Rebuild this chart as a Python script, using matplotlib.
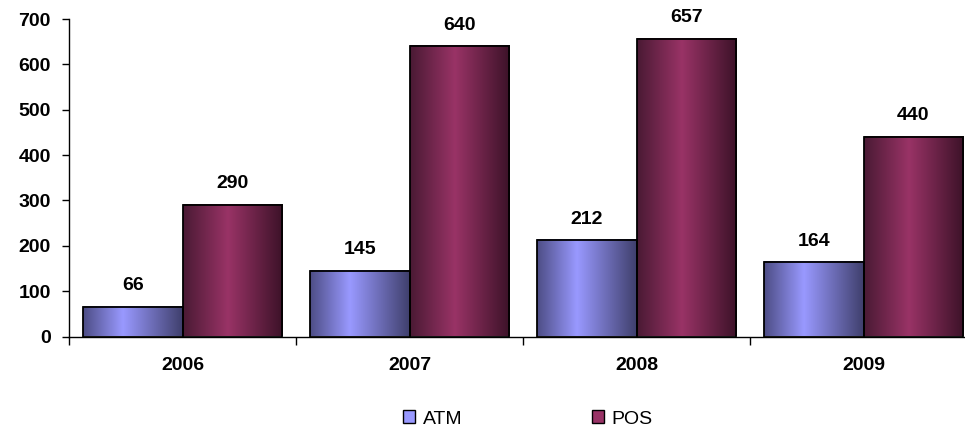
import matplotlib.pyplot as plt
import numpy as np
from matplotlib.colors import LinearSegmentedColormap
from matplotlib.patches import Rectangle, Patch

plt.rcParams['font.family'] = ['Liberation Sans', 'DejaVu Sans']

# data
years = ['2006', '2007', '2008', '2009']
atm = [66, 145, 212, 164]
pos = [290, 640, 657, 440]
series_names = ['ATM', 'POS']

# colours: dark edge -> light centre -> darker edge
atm_cmap = LinearSegmentedColormap.from_list(
    'atm', [(0, '#4d4d85'), (0.4, '#9999ff'), (1, '#3f3f6c')])
pos_cmap = LinearSegmentedColormap.from_list(
    'pos', [(0, '#4a1a34'), (0.45, '#993366'), (1, '#3c1228')])

fig = plt.figure(figsize=(9.65, 4.3), dpi=100)
ax = fig.add_axes([69 / 965, 93.5 / 430, 908 / 965, 317.5 / 430])

bar_w = 0.438
grad = np.linspace(0, 1, 256).reshape(1, -1)

for i in range(len(years)):
    for vals, cmap, off in ((atm, atm_cmap, -bar_w / 2), (pos, pos_cmap, bar_w / 2)):
        x0 = i + off - bar_w / 2
        h = vals[i]
        ax.imshow(grad, extent=[x0, x0 + bar_w, 0, h], cmap=cmap,
                  aspect='auto', zorder=2, interpolation='bilinear')
        ax.add_patch(Rectangle((x0, 0), bar_w, h, fill=False,
                               edgecolor='black', lw=1.3, zorder=3))
        ax.annotate(str(h), (x0 + bar_w / 2, h), xytext=(0, 9),
                    textcoords='offset points', ha='center', va='bottom',
                    fontsize=14, fontweight='bold')

ax.set_xlim(-0.5, len(years) - 0.5)
ax.set_ylim(0, 700)

# x: labels at group centres, tick marks at group boundaries
ax.set_xticks(range(len(years)))
ax.set_xticklabels(years, fontsize=14, fontweight='bold')
ax.set_xticks(np.arange(-0.5, len(years)), minor=True)
ax.tick_params(axis='x', which='major', length=0, pad=15)
ax.tick_params(axis='x', which='minor', length=6, width=1, direction='out')

ax.set_yticks(range(0, 701, 100))
ax.set_yticklabels([str(v) for v in range(0, 701, 100)],
                   fontsize=14, fontweight='bold')
ax.tick_params(axis='y', length=5, width=1, direction='out', pad=8)

for s in ('top', 'right'):
    ax.spines[s].set_visible(False)
for s in ('left', 'bottom'):
    ax.spines[s].set_linewidth(1)

handles = [Patch(facecolor='#9999ff', edgecolor='black', lw=1),
           Patch(facecolor='#993366', edgecolor='black', lw=1)]
fig.legend(handles, series_names, loc='center', bbox_to_anchor=(528 / 965, 1 - 419 / 430),
           ncol=2, frameon=False, fontsize=14, handlelength=0.6, handleheight=0.6,
           handletextpad=0.4, columnspacing=6.7)

fig.savefig('out.png', dpi=100)
